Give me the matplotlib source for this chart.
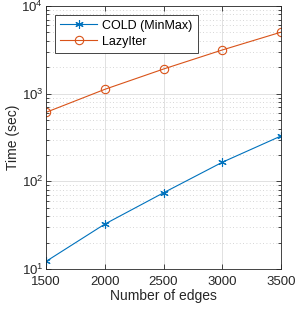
import matplotlib
matplotlib.use("Agg")
import matplotlib.pyplot as plt
from matplotlib.ticker import LogLocator, NullFormatter

edges = [1500, 2000, 2500, 3000, 3500]
cold_minmax = [12.2, 32.5, 74, 165, 329]
lazyiter = [612, 1120, 1910, 3150, 5030]

plt.rcParams["font.family"] = ["Liberation Sans", "DejaVu Sans"]
plt.rcParams["mathtext.fontset"] = "custom"
plt.rcParams["mathtext.rm"] = "Liberation Sans"

fig = plt.figure(figsize=(2.95, 3.09), dpi=100)
ax = fig.add_axes([46 / 295, 1 - 269 / 309, 235 / 295, 263 / 309])

ax.plot(edges, cold_minmax, color="#0072BD", marker=(6, 2, 0), markersize=6,
        markeredgewidth=0.8, linewidth=0.8, label="COLD (MinMax)")
ax.plot(edges, lazyiter, color="#D95319", marker="o", markersize=6,
        markerfacecolor="none", markeredgewidth=0.8, linewidth=0.8, label="LazyIter")

ax.set_yscale("log")
ax.set_xlim(1500, 3500)
ax.set_ylim(10, 1e4)
ax.set_xticks(edges)
ax.yaxis.set_minor_locator(LogLocator(base=10, subs=range(2, 10)))
ax.yaxis.set_minor_formatter(NullFormatter())

ax.grid(True, which="major", color="#dcdcdc", linewidth=0.6)
ax.grid(True, which="minor", axis="y", color="#c8c8c8", linestyle=(0, (1, 3)), linewidth=0.6)
ax.set_axisbelow(True)

ax.tick_params(which="both", direction="in", top=True, right=True, labelsize=9.5,
               colors="#262626", width=0.6)
ax.tick_params(which="major", length=3.5)
ax.tick_params(which="minor", length=2)
ax.tick_params(axis="x", pad=5)
ax.tick_params(axis="y", pad=2)
for s in ax.spines.values():
    s.set_color("#262626")
    s.set_linewidth(0.6)

ax.set_xlabel("Number of edges", fontsize=10, color="#262626", labelpad=1)
ax.set_ylabel("Time (sec)", fontsize=10, color="#262626", labelpad=1)

leg = ax.legend(loc="upper left", fontsize=9, fancybox=False, framealpha=1,
                edgecolor="#262626", borderaxespad=0.7, handlelength=3.0,
                handletextpad=0.4, borderpad=0.4, labelspacing=0.3)
leg.get_frame().set_linewidth(0.6)

fig.savefig("out.png", dpi=100)
